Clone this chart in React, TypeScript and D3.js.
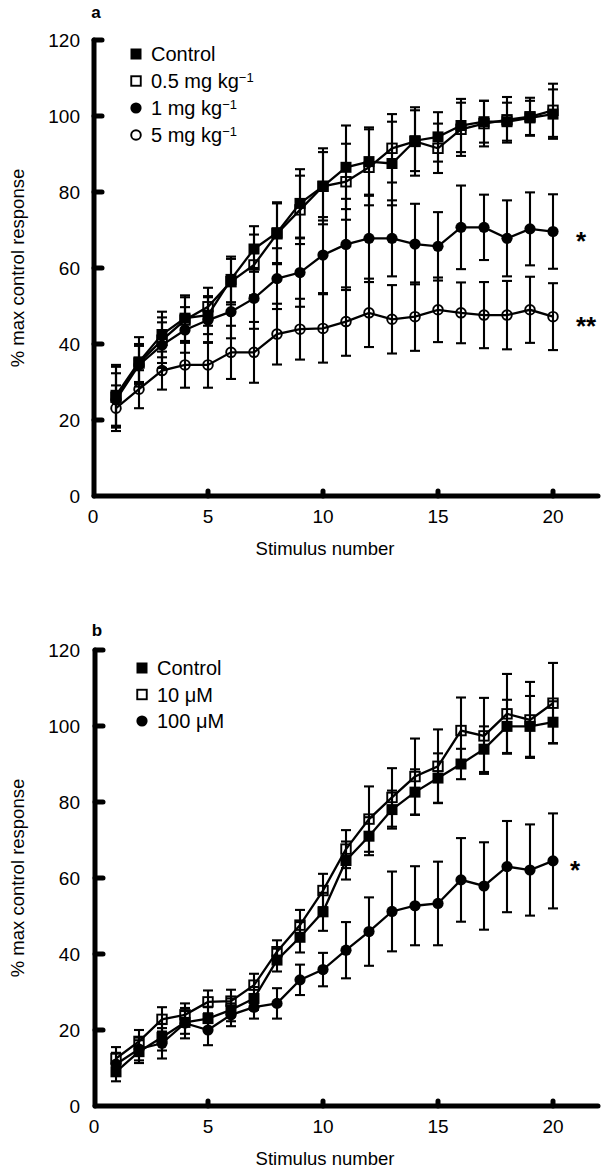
import React from "react";
import * as d3 from "d3";

const stim = [1, 2, 3, 4, 5, 6, 7, 8, 9, 10, 11, 12, 13, 14, 15, 16, 17, 18, 19, 20];
const xTicks = [0, 5, 10, 15, 20];
const yTicks = [0, 20, 40, 60, 80, 100, 120];

// Panel a
const aControl = [26.5, 35.3, 42.5, 46.8, 47.6, 57.0, 65.0, 69.3, 77.0, 81.5, 86.5, 88.0, 87.5, 93.5, 94.5, 97.5, 98.5, 98.5, 99.5, 100.5];
const aControlErr = [8, 6.5, 6, 6, 5, 6, 6, 8, 9, 10, 11, 9, 11, 8, 6.5, 7, 5.5, 5, 4.5, 6.5];
const aLow = [26, 35, 41, 46.3, 49.8, 56.4, 60.8, 69, 75.3, 81.5, 82.7, 86.5, 91.5, 93.3, 91.5, 96.5, 98, 99, 99.8, 101.5];
const aLowErr = [8, 5, 6, 6, 5, 6, 8, 8, 9, 9, 10, 10, 9, 9, 6.5, 7, 6, 6, 5, 7];
const aMid = [25.3, 34.5, 39.7, 43.7, 46.3, 48.5, 52, 57.2, 58.8, 63.4, 66.2, 67.8, 67.8, 66.3, 65.7, 70.7, 70.7, 67.8, 70.3, 69.6];
const aMidErr = [7, 5, 6, 6, 6, 7, 8, 8, 9, 10, 12, 11.5, 10, 10.6, 9, 11, 8.6, 10, 9.6, 9.8];
const aHigh = [23.1, 28.1, 33, 34.5, 34.5, 37.8, 37.8, 42.6, 43.9, 44.1, 45.9, 48.2, 46.5, 47.2, 49, 48.2, 47.6, 47.6, 49, 47.2];
const aHighErr = [6, 5, 5, 6, 6, 7, 8, 8, 8, 9, 9, 9, 9, 9, 8.5, 8, 8.7, 9, 8.7, 8.8];

// Panel b
const bControl = [9.0, 14.3, 18.1, 22.0, 23.0, 25.3, 28.3, 38.4, 44.4, 51.1, 64.6, 71.0, 78.0, 82.6, 86.3, 90.0, 93.9, 99.9, 99.9, 101.0];
const bControlErr = [2.5, 3, 3.5, 3, 3, 3, 3, 3, 4, 5, 5, 5, 5, 6, 6.5, 4, 6, 7, 8, 5.5];
const bLow = [12.5, 17.0, 22.8, 24.0, 27.4, 27.6, 31.8, 40.6, 47.6, 56.7, 67.6, 75.5, 81.2, 86.7, 89.4, 98.8, 97.4, 103.2, 101.6, 106.0];
const bLowErr = [3, 3, 3.2, 3, 3, 3, 3, 3, 4, 4.4, 5, 8.6, 7.7, 10, 9.7, 8.7, 10, 10.5, 10, 10.6];
const bHigh = [11.0, 15.0, 16.5, 21.8, 20.0, 24.0, 26.0, 27.0, 33.2, 35.9, 41.0, 45.9, 51.2, 52.7, 53.3, 59.5, 57.9, 63.0, 62.1, 64.5];
const bHighErr = [3, 3, 4, 4, 4, 3, 3, 4, 4, 4.4, 7.4, 9, 10.5, 10.4, 11, 11, 11.5, 12, 12, 12.5];

type Marker = "fsq" | "osq" | "fci" | "oci";
type Series = { name: string; sup?: string; marker: Marker; values: number[]; err: number[] };

const seriesA: Series[] = [
  { name: "Control", marker: "fsq", values: aControl, err: aControlErr },
  { name: "0.5 mg kg", sup: "−1", marker: "osq", values: aLow, err: aLowErr },
  { name: "1 mg kg", sup: "−1", marker: "fci", values: aMid, err: aMidErr },
  { name: "5 mg kg", sup: "−1", marker: "oci", values: aHigh, err: aHighErr },
];
const seriesB: Series[] = [
  { name: "Control", marker: "fsq", values: bControl, err: bControlErr },
  { name: "10 μM", marker: "osq", values: bLow, err: bLowErr },
  { name: "100 μM", marker: "fci", values: bHigh, err: bHighErr },
];

const FONT = "'Liberation Sans', Arial, Helvetica, sans-serif";

function MarkerShape({ m, x, y, legend }: { m: Marker; x: number; y: number; legend?: boolean }) {
  if (m === "fsq") { const s = 11; return <rect x={x - s / 2} y={y - s / 2} width={s} height={s} fill="#000" />; }
  if (m === "osq") { const s = 9.5; return <rect x={x - s / 2} y={y - s / 2} width={s} height={s} fill={legend ? "#fff" : "none"} stroke="#000" strokeWidth={1.9} />; }
  if (m === "fci") return <circle cx={x} cy={y} r={5.6} fill="#000" />;
  return <circle cx={x} cy={y} r={4.8} fill={legend ? "#fff" : "none"} stroke="#000" strokeWidth={1.9} />;
}

function Panel({ label, labelY, series, top, axisX, legendX, legendY, legendStep, stars }: {
  label: string; labelY: number; series: Series[]; top: number; axisX: number; legendX: number; legendY: number; legendStep: number;
  stars: { text: string; x: number; v: number }[];
}) {
  const y0 = top + 456;
  const y = d3.scaleLinear().domain([0, 120]).range([y0, top]);
  const x = d3.scaleLinear().domain([0, 20]).range([93, 553]);
  const line = d3.line<number>().x((_, i) => x(stim[i])).y((d) => y(d));
  const cap = 5;
  return (
    <g fontFamily={FONT} fill="#000">
      <text x={axisX + 2} y={labelY} fontSize={17} fontWeight="bold" textAnchor="middle">{label}</text>
      {/* axes */}
      <line x1={axisX} x2={axisX} y1={y(120)} y2={y0} stroke="#000" strokeWidth={5} strokeLinecap="round" />
      <line x1={axisX} x2={598} y1={y0} y2={y0} stroke="#000" strokeWidth={5} strokeLinecap="round" />
      {yTicks.filter((t) => t > 0).map((t) => (
        <line key={"yt" + t} x1={axisX} x2={axisX + 8} y1={y(t)} y2={y(t)} stroke="#000" strokeWidth={5} strokeLinecap="round" />
      ))}
      {xTicks.filter((t) => t > 0).map((t) => (
        <line key={"xt" + t} x1={x(t)} x2={x(t)} y1={y0} y2={y0 - 5} stroke="#000" strokeWidth={5} strokeLinecap="round" />
      ))}
      {yTicks.map((t) => (
        <text key={"yl" + t} x={80} y={y(t)} dy="0.36em" fontSize={19} textAnchor="end">{t}</text>
      ))}
      {xTicks.map((t) => (
        <text key={"xl" + t} x={t === 0 ? axisX - 1 : x(t)} y={y0 + 27} fontSize={19} textAnchor="middle">{t}</text>
      ))}
      <text x={325} y={y0 + 59} fontSize={18.5} textAnchor="middle">Stimulus number</text>
      <text transform={`translate(24,${y(60)}) rotate(-90)`} fontSize={18.5} textAnchor="middle">% max control response</text>
      {/* lines */}
      {series.map((s) => (
        <path key={"l" + s.name} d={line(s.values) || ""} fill="none" stroke="#000" strokeWidth={2.3} />
      ))}
      {/* error bars */}
      {series.map((s) => (
        <g key={"e" + s.name} stroke="#000" strokeWidth={2.1}>
          {s.values.map((v, i) => {
            const cx = x(stim[i]);
            const yt = y(v + s.err[i]);
            const yb = y(v - s.err[i]);
            return (
              <g key={i}>
                <line x1={cx} x2={cx} y1={yt} y2={yb} />
                <line x1={cx - cap} x2={cx + cap} y1={yt} y2={yt} />
                <line x1={cx - cap} x2={cx + cap} y1={yb} y2={yb} />
              </g>
            );
          })}
        </g>
      ))}
      {/* markers */}
      {series.map((s) => (
        <g key={"m" + s.name}>
          {s.values.map((v, i) => <MarkerShape key={i} m={s.marker} x={x(stim[i])} y={y(v)} />)}
        </g>
      ))}
      {/* legend */}
      {series.map((s, i) => (
        <g key={"lg" + s.name}>
          <MarkerShape m={s.marker} x={legendX} y={legendY + i * legendStep} legend />
          <text x={legendX + 15} y={legendY + i * legendStep} dy="0.36em" fontSize={20}>
            {s.name}
            {s.sup ? <tspan dy="-0.45em" fontSize={13}>{s.sup}</tspan> : null}
          </text>
        </g>
      ))}
      {stars.map((st, i) => (
        <text key={"st" + i} x={st.x} y={y(st.v)} dy="0.7em" fontSize={26} fontWeight="bold" textAnchor="start">{st.text}</text>
      ))}
    </g>
  );
}

export default function App() {
  return (
    <svg width={604} height={1173} style={{ display: "block", position: "absolute", left: 0, top: 0, background: "#fff" }}>
      <rect width={604} height={1173} fill="#fff" />
      <Panel label="a" labelY={18} series={seriesA} top={40} axisX={94} legendX={136} legendY={54} legendStep={27}
        stars={[{ text: "*", x: 576, v: 69.6 }, { text: "**", x: 576, v: 47.2 }]} />
      <Panel label="b" labelY={636} series={seriesB} top={650} axisX={95} legendX={142} legendY={668} legendStep={26.5}
        stars={[{ text: "*", x: 570, v: 64.5 }]} />
    </svg>
  );
}
